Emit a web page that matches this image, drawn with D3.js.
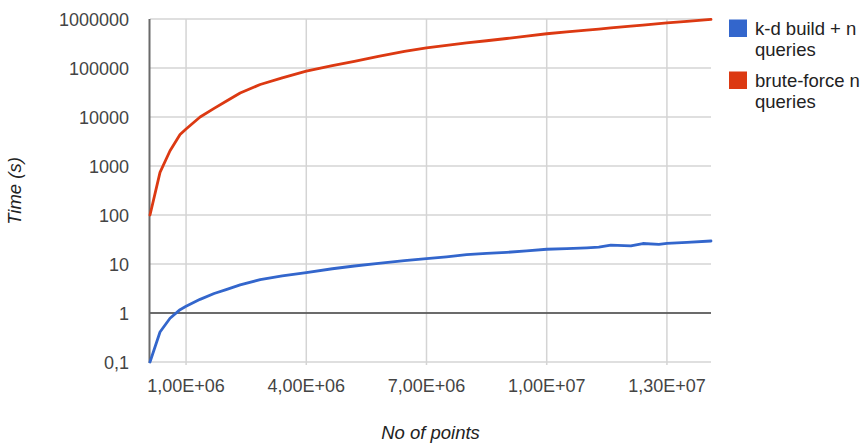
<!DOCTYPE html>
<html>
<head>
<meta charset="utf-8">
<script src="https://cdn.jsdelivr.net/npm/d3@7/dist/d3.min.js"></script>
<style>
  html, body { margin: 0; padding: 0; background: #fff; }
  svg { display: block; font-family: "Liberation Sans", Arial, sans-serif; }
</style>
</head>
<body>
<svg id="chart" width="864" height="443"></svg>
<script>
// ---- data ----
const points = [100000, 350000, 600000, 850000, 1000000, 1350000, 1700000, 2000000, 2350000, 2850000,
  3400000, 4000000, 4650000, 5200000, 5800000, 6450000, 7000000, 7500000, 8000000, 8500000,
  9000000, 9500000, 10000000, 10500000, 11000000, 11300000, 11600000, 12100000, 12400000, 12800000,
  13000000, 13500000, 14100000];
const kdBuild = [0.1, 0.41, 0.78, 1.17, 1.37, 1.9, 2.5, 3.0, 3.75, 4.8,
  5.7, 6.7, 8.0, 9.1, 10.3, 11.7, 12.9, 14.0, 15.5, 16.4,
  17.3, 18.5, 20, 20.6, 21.3, 22, 24.2, 23.4, 26.2, 25.2,
  26.3, 27.5, 29.5];
const bruteForce = [100, 740, 2050, 4400, 5700, 10000, 15000, 21000, 31000, 46000,
  63000, 86000, 112000, 137000, 173000, 219000, 257000, 290000, 325000, 360000,
  400000, 445000, 500000, 545000, 593000, 624000, 657000, 714000, 751000, 804000,
  835000, 896000, 980000];
const xTicks = [1000000, 4000000, 7000000, 10000000, 13000000];
const xTickLabels = ["1,00E+06", "4,00E+06", "7,00E+06", "1,00E+07", "1,30E+07"];
const yTicks = [0.1, 1, 10, 100, 1000, 10000, 100000, 1000000];
const yTickLabels = ["0,1", "1", "10", "100", "1000", "10000", "100000", "1000000"];
const legendLines = [["k-d build + n", "queries"], ["brute-force n", "queries"]];
const xTitle = "No of points";
const yTitle = "Time (s)";

// ---- layout ----
const svg = d3.select("#chart");
const L = 150, R = 711, T = 19, B = 362;
const colors = ["#3366cc", "#dc3912"];

const x = d3.scaleLinear().domain([100000, 14100000]).range([L, R]);
const y = d3.scaleLog().domain([0.1, 1000000]).range([B, T]);

// horizontal gridlines
svg.append("g").selectAll("line").data(yTicks).join("line")
  .attr("x1", L).attr("x2", R)
  .attr("y1", d => y(d)).attr("y2", d => y(d))
  .attr("stroke", "#d4d4d4").attr("stroke-width", 1.5);

// vertical gridlines
svg.append("g").selectAll("line").data(xTicks).join("line")
  .attr("x1", d => x(d)).attr("x2", d => x(d))
  .attr("y1", T).attr("y2", B + 3)
  .attr("stroke", "#d4d4d4").attr("stroke-width", 1.5);

// baseline at 1
svg.append("line")
  .attr("x1", L).attr("x2", R)
  .attr("y1", y(1)).attr("y2", y(1))
  .attr("stroke", "#444444").attr("stroke-width", 1.5);

// left axis line
svg.append("line")
  .attr("x1", L - 0.5).attr("x2", L - 0.5)
  .attr("y1", T).attr("y2", B + 1)
  .attr("stroke", "#6a6a6a").attr("stroke-width", 2);

// y tick labels
svg.append("g").selectAll("text").data(yTicks).join("text")
  .attr("x", 129).attr("y", d => y(d) + 6.5)
  .attr("text-anchor", "end")
  .attr("font-size", 18).attr("fill", "#444444")
  .text((d, i) => yTickLabels[i]);

// x tick labels
svg.append("g").selectAll("text").data(xTicks).join("text")
  .attr("x", d => x(d)).attr("y", 392)
  .attr("text-anchor", "middle")
  .attr("font-size", 18).attr("fill", "#444444")
  .text((d, i) => xTickLabels[i]);

// axis titles
svg.append("text")
  .attr("x", (L + R) / 2).attr("y", 439)
  .attr("text-anchor", "middle").attr("font-style", "italic")
  .attr("font-size", 18.5).attr("fill", "#222222")
  .text(xTitle);
svg.append("text")
  .attr("transform", `translate(21,191) rotate(-90)`)
  .attr("text-anchor", "middle").attr("font-style", "italic")
  .attr("font-size", 18.5).attr("fill", "#222222")
  .text(yTitle);

// lines
const line = d3.line().x((d, i) => x(points[i])).y(d => y(d));
[kdBuild, bruteForce].forEach((s, k) => {
  svg.append("path").datum(s)
    .attr("d", line)
    .attr("fill", "none")
    .attr("stroke", colors[k])
    .attr("stroke-width", 2.8)
    .attr("stroke-linejoin", "round")
    .attr("stroke-linecap", "round");
});

// legend
const legendTop = [19.5, 71.5];
legendLines.forEach((lines, k) => {
  svg.append("rect")
    .attr("x", 729).attr("y", legendTop[k]).attr("width", 18).attr("height", 17.5)
    .attr("fill", colors[k]);
  lines.forEach((t, j) => {
    svg.append("text")
      .attr("x", 755).attr("y", legendTop[k] + 15.5 + j * 21)
      .attr("font-size", 18.5).attr("fill", "#222222")
      .text(t);
  });
});
</script>
</body>
</html>
